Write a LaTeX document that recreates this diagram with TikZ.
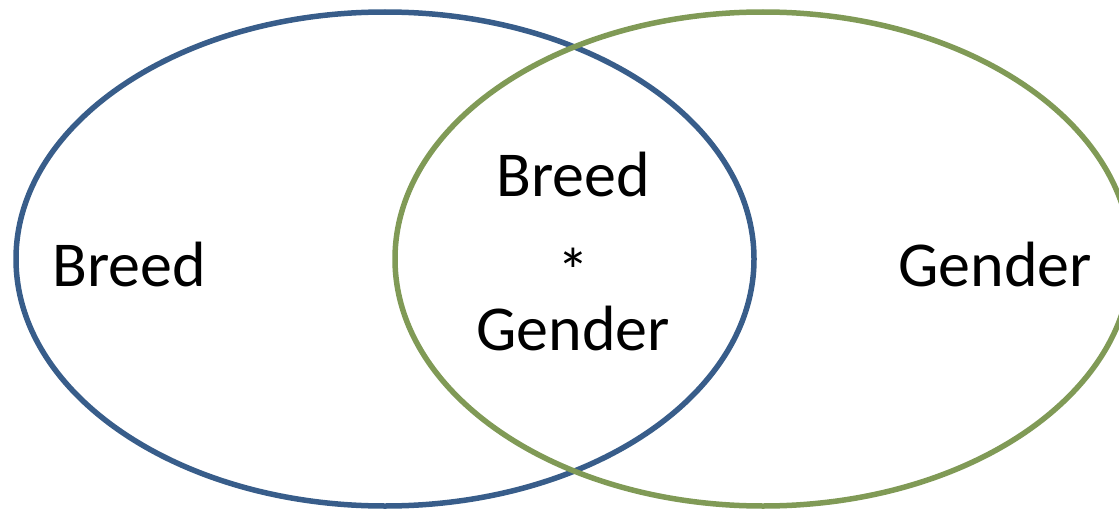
\documentclass[tikz,border=0pt]{standalone}
\usepackage{fontspec}
\setmainfont{Carlito}
\usepackage{tikz}
\definecolor{breedblue}{RGB}{56,93,138}
\definecolor{gendergreen}{RGB}{128,154,86}
\tikzset{
  setring/.style={line width=5.5pt},
  setlabel/.style={inner sep=0pt, anchor=base, align=center,
    font=\fontsize{64}{77}\selectfont}
}

\begin{document}
\begin{tikzpicture}[x=1pt, y=-1pt]
  \useasboundingbox (0,0) rectangle (1119,511);
  \clip (0,0) rectangle (1119,511);
  % the two sets
  \draw[setring, breedblue] (385,259) ellipse [x radius=369, y radius=247];
  \draw[setring, gendergreen] (763,259) ellipse [x radius=368, y radius=247];
  % labels
  \node[setlabel] (breed) at (129,286) {Breed};
  \node[setlabel] (gender) at (995,286) {Gender};
  \node[setlabel] (both) at (573,350) {Breed\\\raisebox{-20pt}{*}\\Gender};
\end{tikzpicture}
\end{document}
